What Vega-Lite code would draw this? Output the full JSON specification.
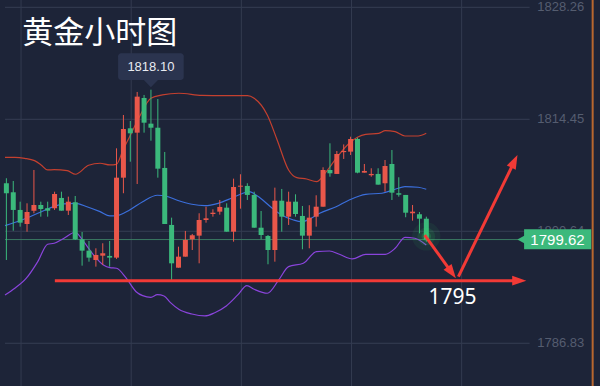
{
  "$schema": "https://vega.github.io/schema/vega-lite/v6.json",
  "width": 600,
  "height": 386,
  "autosize": "none",
  "padding": 0,
  "background": "#1d2438",
  "config": {"view": {"stroke": null}},
  "datasets": {
    "candles": [
      {"t":0,"o":1806.56,"h":1807.18,"l":1797.10,"c":1805.33},
      {"t":1,"o":1805.45,"h":1806.84,"l":1800.71,"c":1803.27},
      {"t":2,"o":1803.27,"h":1804.29,"l":1801.21,"c":1801.70},
      {"t":3,"o":1801.54,"h":1804.09,"l":1800.59,"c":1803.02},
      {"t":4,"o":1803.18,"h":1808.20,"l":1802.86,"c":1803.88},
      {"t":5,"o":1803.88,"h":1804.29,"l":1802.44,"c":1803.39},
      {"t":6,"o":1803.48,"h":1804.29,"l":1802.44,"c":1803.18},
      {"t":7,"o":1803.48,"h":1805.52,"l":1803.27,"c":1805.24},
      {"t":8,"o":1804.75,"h":1805.52,"l":1803.18,"c":1803.18},
      {"t":9,"o":1803.18,"h":1804.91,"l":1802.65,"c":1804.29},
      {"t":10,"o":1804.22,"h":1804.99,"l":1799.57,"c":1799.65},
      {"t":11,"o":1799.65,"h":1800.55,"l":1796.40,"c":1798.25},
      {"t":12,"o":1798.25,"h":1799.44,"l":1796.89,"c":1797.39},
      {"t":13,"o":1797.10,"h":1798.54,"l":1796.28,"c":1797.72},
      {"t":14,"o":1797.63,"h":1799.16,"l":1796.49,"c":1797.93},
      {"t":15,"o":1797.60,"h":1799.44,"l":1796.28,"c":1797.39},
      {"t":16,"o":1797.39,"h":1810.87,"l":1797.23,"c":1807.25},
      {"t":17,"o":1807.25,"h":1814.98,"l":1805.33,"c":1813.25},
      {"t":18,"o":1813.34,"h":1814.24,"l":1809.22,"c":1812.72},
      {"t":19,"o":1812.80,"h":1817.82,"l":1806.47,"c":1817.24},
      {"t":20,"o":1817.08,"h":1817.45,"l":1812.80,"c":1814.03},
      {"t":21,"o":1813.91,"h":1818.10,"l":1811.81,"c":1813.41},
      {"t":22,"o":1813.41,"h":1816.95,"l":1807.25,"c":1808.36},
      {"t":23,"o":1808.45,"h":1810.42,"l":1801.54,"c":1801.54},
      {"t":24,"o":1801.42,"h":1802.32,"l":1794.64,"c":1796.69},
      {"t":25,"o":1796.15,"h":1798.74,"l":1796.15,"c":1797.51},
      {"t":26,"o":1797.51,"h":1800.68,"l":1797.51,"c":1799.57},
      {"t":27,"o":1799.65,"h":1800.31,"l":1798.33,"c":1800.15},
      {"t":28,"o":1800.10,"h":1802.86,"l":1796.69,"c":1802.03},
      {"t":29,"o":1802.03,"h":1803.67,"l":1801.70,"c":1802.24},
      {"t":30,"o":1802.77,"h":1803.35,"l":1802.44,"c":1802.93},
      {"t":31,"o":1803.06,"h":1804.50,"l":1802.69,"c":1803.64},
      {"t":32,"o":1803.55,"h":1804.09,"l":1800.59,"c":1800.59},
      {"t":33,"o":1800.59,"h":1807.13,"l":1799.36,"c":1806.10},
      {"t":34,"o":1806.14,"h":1807.67,"l":1803.43,"c":1806.26},
      {"t":35,"o":1806.23,"h":1806.56,"l":1804.50,"c":1805.12},
      {"t":36,"o":1805.12,"h":1805.52,"l":1801.08,"c":1801.08},
      {"t":37,"o":1801.08,"h":1803.14,"l":1799.65,"c":1800.18},
      {"t":38,"o":1800.06,"h":1800.18,"l":1796.57,"c":1798.33},
      {"t":39,"o":1798.33,"h":1806.02,"l":1796.89,"c":1804.41},
      {"t":40,"o":1804.41,"h":1805.86,"l":1800.59,"c":1802.44},
      {"t":41,"o":1802.44,"h":1805.52,"l":1801.42,"c":1804.29},
      {"t":42,"o":1804.29,"h":1805.20,"l":1802.44,"c":1802.77},
      {"t":43,"o":1802.53,"h":1803.76,"l":1798.42,"c":1800.10},
      {"t":44,"o":1800.10,"h":1803.85,"l":1798.54,"c":1802.32},
      {"t":45,"o":1802.44,"h":1805.08,"l":1801.21,"c":1803.67},
      {"t":46,"o":1803.67,"h":1808.53,"l":1803.67,"c":1808.20},
      {"t":47,"o":1808.20,"h":1811.49,"l":1807.37,"c":1807.79},
      {"t":48,"o":1807.71,"h":1810.54,"l":1807.71,"c":1810.17},
      {"t":49,"o":1810.40,"h":1811.35,"l":1809.56,"c":1810.54},
      {"t":50,"o":1810.46,"h":1812.30,"l":1810.05,"c":1812.02},
      {"t":51,"o":1812.02,"h":1812.18,"l":1807.79,"c":1807.87},
      {"t":52,"o":1807.87,"h":1808.94,"l":1807.87,"c":1808.08},
      {"t":53,"o":1807.55,"h":1808.41,"l":1807.37,"c":1807.71},
      {"t":54,"o":1807.71,"h":1808.41,"l":1806.39,"c":1806.39},
      {"t":55,"o":1806.56,"h":1809.43,"l":1805.52,"c":1808.69},
      {"t":56,"o":1808.94,"h":1810.66,"l":1804.50,"c":1805.40},
      {"t":57,"o":1805.33,"h":1807.30,"l":1804.91,"c":1805.15},
      {"t":58,"o":1805.12,"h":1805.12,"l":1802.37,"c":1802.93},
      {"t":59,"o":1802.86,"h":1803.88,"l":1801.95,"c":1803.06},
      {"t":60,"o":1802.74,"h":1803.02,"l":1800.39,"c":1802.19},
      {"t":61,"o":1802.19,"h":1802.44,"l":1799.36,"c":1799.62}
    ],
    "bands": [
      {"b":"upper","t":-0.2,"v":1809.76},{"b":"upper","t":1.23,"v":1809.76},{"b":"upper","t":2.66,"v":1809.64},
      {"b":"upper","t":4.09,"v":1809.35},{"b":"upper","t":5.04,"v":1808.82},{"b":"upper","t":5.99,"v":1808.20},
      {"b":"upper","t":6.94,"v":1808.24},{"b":"upper","t":8.84,"v":1808.11},{"b":"upper","t":10.04,"v":1807.67},
      {"b":"upper","t":11.94,"v":1808.78},{"b":"upper","t":13.61,"v":1809.03},{"b":"upper","t":15.04,"v":1808.82},
      {"b":"upper","t":15.99,"v":1808.90},{"b":"upper","t":16.94,"v":1810.66},{"b":"upper","t":17.9,"v":1812.30},
      {"b":"upper","t":19.33,"v":1814.77},{"b":"upper","t":20.99,"v":1817.04},{"b":"upper","t":22.66,"v":1817.45},
      {"b":"upper","t":25.04,"v":1817.66},{"b":"upper","t":28.37,"v":1817.41},{"b":"upper","t":31.66,"v":1817.36},
      {"b":"upper","t":35.04,"v":1817.36},{"b":"upper","t":35.99,"v":1817.04},{"b":"upper","t":37.9,"v":1814.98},
      {"b":"upper","t":39.33,"v":1811.90},{"b":"upper","t":40.99,"v":1808.20},{"b":"upper","t":42.19,"v":1807.25},
      {"b":"upper","t":43.61,"v":1807.09},{"b":"upper","t":45.04,"v":1806.76},{"b":"upper","t":46.47,"v":1807.99},
      {"b":"upper","t":47.9,"v":1809.64},{"b":"upper","t":49.8,"v":1811.49},{"b":"upper","t":50.99,"v":1812.23},
      {"b":"upper","t":52.19,"v":1812.60},{"b":"upper","t":54.09,"v":1812.72},{"b":"upper","t":55.04,"v":1813.04},
      {"b":"upper","t":56.47,"v":1812.92},{"b":"upper","t":57.9,"v":1812.39},{"b":"upper","t":59.8,"v":1812.39},
      {"b":"upper","t":60.99,"v":1812.72},
      {"b":"mid","t":-0.2,"v":1801.33},{"b":"mid","t":2.19,"v":1802.03},{"b":"mid","t":4.56,"v":1802.86},
      {"b":"mid","t":6.47,"v":1803.55},{"b":"mid","t":8.37,"v":1804.01},{"b":"mid","t":10.04,"v":1804.09},
      {"b":"mid","t":11.7,"v":1803.67},{"b":"mid","t":13.61,"v":1803.06},{"b":"mid","t":15.04,"v":1802.53},
      {"b":"mid","t":15.99,"v":1802.56},{"b":"mid","t":17.9,"v":1803.27},{"b":"mid","t":19.8,"v":1804.29},
      {"b":"mid","t":21.94,"v":1805.08},{"b":"mid","t":23.13,"v":1804.99},{"b":"mid","t":25.04,"v":1804.41},
      {"b":"mid","t":26.94,"v":1803.97},{"b":"mid","t":28.84,"v":1803.80},{"b":"mid","t":30.76,"v":1804.09},
      {"b":"mid","t":32.66,"v":1804.71},{"b":"mid","t":34.09,"v":1805.24},{"b":"mid","t":35.27,"v":1805.52},
      {"b":"mid","t":36.47,"v":1804.99},{"b":"mid","t":38.37,"v":1803.67},{"b":"mid","t":39.8,"v":1802.74},
      {"b":"mid","t":41.7,"v":1802.03},{"b":"mid","t":42.9,"v":1801.82},{"b":"mid","t":44.09,"v":1802.16},
      {"b":"mid","t":45.51,"v":1802.86},{"b":"mid","t":47.9,"v":1803.67},{"b":"mid","t":49.8,"v":1804.50},
      {"b":"mid","t":52.19,"v":1805.20},{"b":"mid","t":54.56,"v":1805.33},{"b":"mid","t":56.47,"v":1805.82},
      {"b":"mid","t":57.9,"v":1806.14},{"b":"mid","t":59.8,"v":1806.07},{"b":"mid","t":60.99,"v":1805.82},
      {"b":"lower","t":-0.2,"v":1792.79},{"b":"lower","t":1.23,"v":1793.61},{"b":"lower","t":2.9,"v":1794.85},
      {"b":"lower","t":4.56,"v":1796.89},{"b":"lower","t":5.99,"v":1799.04},{"b":"lower","t":6.94,"v":1799.16},
      {"b":"lower","t":8.37,"v":1799.78},{"b":"lower","t":9.99,"v":1800.52},{"b":"lower","t":11.23,"v":1799.36},
      {"b":"lower","t":12.66,"v":1797.72},{"b":"lower","t":14.09,"v":1796.49},{"b":"lower","t":15.04,"v":1796.15},
      {"b":"lower","t":15.99,"v":1796.08},{"b":"lower","t":17.41,"v":1794.85},{"b":"lower","t":18.84,"v":1793.19},
      {"b":"lower","t":19.8,"v":1792.70},{"b":"lower","t":20.99,"v":1792.50},{"b":"lower","t":21.94,"v":1792.82},
      {"b":"lower","t":22.9,"v":1792.66},{"b":"lower","t":23.84,"v":1791.84},{"b":"lower","t":25.04,"v":1791.02},
      {"b":"lower","t":26.94,"v":1790.44},{"b":"lower","t":28.84,"v":1790.20},{"b":"lower","t":30.27,"v":1790.60},
      {"b":"lower","t":31.94,"v":1791.43},{"b":"lower","t":33.61,"v":1792.79},{"b":"lower","t":34.94,"v":1793.93},
      {"b":"lower","t":35.99,"v":1793.49},{"b":"lower","t":37.9,"v":1793.00},{"b":"lower","t":39.56,"v":1794.64},
      {"b":"lower","t":40.99,"v":1796.28},{"b":"lower","t":43.13,"v":1796.69},{"b":"lower","t":45.04,"v":1798.13},
      {"b":"lower","t":46.94,"v":1798.21},{"b":"lower","t":48.37,"v":1797.80},{"b":"lower","t":50.27,"v":1797.23},
      {"b":"lower","t":52.19,"v":1797.80},{"b":"lower","t":55.04,"v":1797.80},{"b":"lower","t":56.47,"v":1798.54},
      {"b":"lower","t":57.9,"v":1799.90},{"b":"lower","t":59.33,"v":1799.78},{"b":"lower","t":60.99,"v":1798.95}
    ],
    "arrows": [
      {"a":"base","t":7.04,"v":1794.55},{"a":"base","t":74.4,"v":1794.55},
      {"a":"down","t":60.76,"v":1800.18},{"a":"down","t":64.69,"v":1795.55},
      {"a":"up","t":65.66,"v":1795.04},{"a":"up","t":73.79,"v":1809.27}
    ],
    "ticks": [
      {"v":1786.83,"label":"1786.83"},{"v":1800.64,"label":"1800.64"},{"v":1814.45,"label":"1814.45"},{"v":1828.26,"label":"1828.26"}
    ]
  },
  "layer": [
    {
      "data": {"name": "ticks"},
      "mark": {"type": "rule", "color": "#363e53", "strokeWidth": 1},
      "encoding": {
        "x": {"datum": -0.2, "type": "quantitative", "scale": {"domain": [-0.2, 85.5], "nice": false, "zero": false}, "axis": null},
        "x2": {"datum": 76},
        "y": {"field": "v", "type": "quantitative", "scale": {"domain": [1781.56, 1829.16], "nice": false, "zero": false}, "axis": null}
      }
    },
    {
      "data": {"name": "ticks"},
      "mark": {"type": "text", "color": "#555d70", "fontSize": 13, "font": "Liberation Sans", "align": "right", "baseline": "middle"},
      "encoding": {
        "x": {"datum": 83.95, "type": "quantitative", "scale": {"domain": [-0.2, 85.5], "nice": false, "zero": false}, "axis": null},
        "y": {"field": "v", "type": "quantitative", "scale": {"domain": [1781.56, 1829.16], "nice": false, "zero": false}, "axis": null},
        "text": {"field": "label"}
      }
    },
    {
      "data": {"values": [{"t":2.13},{"t":18.13},{"t":34.13},{"t":50.13},{"t":66.13}]},
      "mark": {"type": "rule", "color": "#333b50", "strokeWidth": 1},
      "encoding": {
        "x": {"field": "t", "type": "quantitative", "scale": {"domain": [-0.2, 85.5], "nice": false, "zero": false}, "axis": null}
      }
    },
    {
      "data": {"values": [{"v":1799.62}]},
      "mark": {"type": "rule", "color": "#3a7862", "strokeWidth": 1},
      "encoding": {
        "x": {"datum": -0.2, "type": "quantitative", "scale": {"domain": [-0.2, 85.5], "nice": false, "zero": false}, "axis": null},
        "x2": {"datum": 74.6},
        "y": {"field": "v", "type": "quantitative", "scale": {"domain": [1781.56, 1829.16], "nice": false, "zero": false}, "axis": null}
      }
    },
    {
      "data": {"name": "bands"},
      "mark": {"type": "line", "strokeWidth": 1.2, "interpolate": "monotone"},
      "encoding": {
        "x": {"field": "t", "type": "quantitative", "scale": {"domain": [-0.2, 85.5], "nice": false, "zero": false}, "axis": null},
        "y": {"field": "v", "type": "quantitative", "scale": {"domain": [1781.56, 1829.16], "nice": false, "zero": false}, "axis": null},
        "color": {"field": "b", "type": "nominal", "legend": null,
                  "scale": {"domain": ["upper", "mid", "lower"], "range": ["#c4402f", "#3b6fdc", "#8a44dc"]}}
      }
    },
    {
      "data": {"name": "candles"},
      "mark": {"type": "rule", "strokeWidth": 1},
      "encoding": {
        "x": {"field": "t", "type": "quantitative", "scale": {"domain": [-0.2, 85.5], "nice": false, "zero": false}, "axis": null},
        "y": {"field": "l", "type": "quantitative", "scale": {"domain": [1781.56, 1829.16], "nice": false, "zero": false}, "axis": null},
        "y2": {"field": "h"},
        "color": {"condition": {"test": "datum.c >= datum.o", "value": "#e9574a"}, "value": "#3bb97c"}
      }
    },
    {
      "data": {"name": "candles"},
      "mark": {"type": "bar", "width": 5},
      "encoding": {
        "x": {"field": "t", "type": "quantitative", "scale": {"domain": [-0.2, 85.5], "nice": false, "zero": false}, "axis": null},
        "y": {"field": "o", "type": "quantitative", "scale": {"domain": [1781.56, 1829.16], "nice": false, "zero": false}, "axis": null},
        "y2": {"field": "c"},
        "color": {"condition": {"test": "datum.c >= datum.o", "value": "#e9574a"}, "value": "#3bb97c"}
      }
    },
    {
      "data": {"values": [{"t":60.99,"v":1800.0}]},
      "layer": [
        {"mark": {"type": "point", "shape": "circle", "filled": true, "color": "#33e066", "opacity": 0.07, "size": 800}},
        {"mark": {"type": "point", "shape": "circle", "filled": true, "color": "#33e066", "opacity": 0.12, "size": 320}},
        {"mark": {"type": "point", "shape": "circle", "filled": true, "color": "#33e066", "opacity": 0.2, "size": 90}}
      ],
      "encoding": {
        "x": {"field": "t", "type": "quantitative", "scale": {"domain": [-0.2, 85.5], "nice": false, "zero": false}, "axis": null},
        "y": {"field": "v", "type": "quantitative", "scale": {"domain": [1781.56, 1829.16], "nice": false, "zero": false}, "axis": null}
      }
    },
    {
      "data": {"name": "arrows"},
      "mark": {"type": "line", "strokeWidth": 3, "color": "#f23a36", "strokeCap": "butt"},
      "encoding": {
        "x": {"field": "t", "type": "quantitative", "scale": {"domain": [-0.2, 85.5], "nice": false, "zero": false}, "axis": null},
        "y": {"field": "v", "type": "quantitative", "scale": {"domain": [1781.56, 1829.16], "nice": false, "zero": false}, "axis": null},
        "detail": {"field": "a", "type": "nominal"}
      }
    },
    {
      "data": {"values": [{"t":74.5,"v":1794.55}]},
      "mark": {"type": "point", "shape": "M0,-1L0.7,1L-0.7,1Z", "filled": true, "color": "#f23a36", "opacity": 1, "size": 200, "angle": 90},
      "encoding": {
        "x": {"field": "t", "type": "quantitative", "scale": {"domain": [-0.2, 85.5], "nice": false, "zero": false}, "axis": null},
        "y": {"field": "v", "type": "quantitative", "scale": {"domain": [1781.56, 1829.16], "nice": false, "zero": false}, "axis": null}
      }
    },
    {
      "data": {"values": [{"t":64.69,"v":1795.55}]},
      "mark": {"type": "point", "shape": "M0,-1L0.7,1L-0.7,1Z", "filled": true, "color": "#f23a36", "opacity": 1, "size": 200, "angle": 144},
      "encoding": {
        "x": {"field": "t", "type": "quantitative", "scale": {"domain": [-0.2, 85.5], "nice": false, "zero": false}, "axis": null},
        "y": {"field": "v", "type": "quantitative", "scale": {"domain": [1781.56, 1829.16], "nice": false, "zero": false}, "axis": null}
      }
    },
    {
      "data": {"values": [{"t":73.79,"v":1809.27}]},
      "mark": {"type": "point", "shape": "M0,-1L0.7,1L-0.7,1Z", "filled": true, "color": "#f23a36", "opacity": 1, "size": 200, "angle": 26},
      "encoding": {
        "x": {"field": "t", "type": "quantitative", "scale": {"domain": [-0.2, 85.5], "nice": false, "zero": false}, "axis": null},
        "y": {"field": "v", "type": "quantitative", "scale": {"domain": [1781.56, 1829.16], "nice": false, "zero": false}, "axis": null}
      }
    },
    {
      "data": {"values": [{"x":85.16}]},
      "mark": {"type": "rule", "color": "#b8672f", "strokeWidth": 2},
      "encoding": {
        "x": {"field": "x", "type": "quantitative", "scale": {"domain": [-0.2, 85.5], "nice": false, "zero": false}, "axis": null}
      }
    },
    {
      "data": {"values": [{"label": "1799.62"}]},
      "mark": {"type": "rect", "color": "#3cb97c"},
      "encoding": {
        "x": {"datum": 75.2, "type": "quantitative", "scale": {"domain": [-0.2, 85.5], "nice": false, "zero": false}, "axis": null},
        "x2": {"datum": 84.95},
        "y": {"datum": 1798.42, "type": "quantitative", "scale": {"domain": [1781.56, 1829.16], "nice": false, "zero": false}, "axis": null},
        "y2": {"datum": 1800.89}
      }
    },
    {
      "data": {"values": [{"t":74.95,"v":1799.62}]},
      "mark": {"type": "point", "shape": "M-1,0L1,-1.1L1,1.1Z", "filled": true, "color": "#3cb97c", "opacity": 1, "size": 100},
      "encoding": {
        "x": {"field": "t", "type": "quantitative", "scale": {"domain": [-0.2, 85.5], "nice": false, "zero": false}, "axis": null},
        "y": {"field": "v", "type": "quantitative", "scale": {"domain": [1781.56, 1829.16], "nice": false, "zero": false}, "axis": null}
      }
    },
    {
      "data": {"values": [{"t":80.05,"v":1799.62,"label":"1799.62"}]},
      "mark": {"type": "text", "color": "#ffffff", "fontSize": 15, "font": "Liberation Sans", "align": "center", "baseline": "middle"},
      "encoding": {
        "x": {"field": "t", "type": "quantitative", "scale": {"domain": [-0.2, 85.5], "nice": false, "zero": false}, "axis": null},
        "y": {"field": "v", "type": "quantitative", "scale": {"domain": [1781.56, 1829.16], "nice": false, "zero": false}, "axis": null},
        "text": {"field": "label"}
      }
    },
    {
      "data": {"values": [{"label": "1818.10"}]},
      "mark": {"type": "rect", "color": "#2b344f", "cornerRadius": 3},
      "encoding": {
        "x": {"datum": 16.23, "type": "quantitative", "scale": {"domain": [-0.2, 85.5], "nice": false, "zero": false}, "axis": null},
        "x2": {"datum": 25.76},
        "y": {"datum": 1819.30, "type": "quantitative", "scale": {"domain": [1781.56, 1829.16], "nice": false, "zero": false}, "axis": null},
        "y2": {"datum": 1822.59}
      }
    },
    {
      "data": {"values": [{"t":20.99,"v":1818.85}]},
      "mark": {"type": "point", "shape": "M-1,-0.5L1,-0.5L0,0.5Z", "filled": true, "color": "#2b344f", "opacity": 1, "size": 200},
      "encoding": {
        "x": {"field": "t", "type": "quantitative", "scale": {"domain": [-0.2, 85.5], "nice": false, "zero": false}, "axis": null},
        "y": {"field": "v", "type": "quantitative", "scale": {"domain": [1781.56, 1829.16], "nice": false, "zero": false}, "axis": null}
      }
    },
    {
      "data": {"values": [{"t":20.99,"v":1820.94,"label":"1818.10"}]},
      "mark": {"type": "text", "color": "#e8ebf2", "fontSize": 13, "font": "Liberation Sans", "align": "center", "baseline": "middle"},
      "encoding": {
        "x": {"field": "t", "type": "quantitative", "scale": {"domain": [-0.2, 85.5], "nice": false, "zero": false}, "axis": null},
        "y": {"field": "v", "type": "quantitative", "scale": {"domain": [1781.56, 1829.16], "nice": false, "zero": false}, "axis": null},
        "text": {"field": "label"}
      }
    },
    {
      "data": {"values": [{"t":2.3,"v":1824.97,"label":"黄金小时图"}]},
      "mark": {"type": "text", "color": "#ffffff", "fontSize": 31, "font": "Noto Sans CJK SC", "align": "left", "baseline": "middle"},
      "encoding": {
        "x": {"field": "t", "type": "quantitative", "scale": {"domain": [-0.2, 85.5], "nice": false, "zero": false}, "axis": null},
        "y": {"field": "v", "type": "quantitative", "scale": {"domain": [1781.56, 1829.16], "nice": false, "zero": false}, "axis": null},
        "text": {"field": "label"}
      }
    },
    {
      "data": {"values": [{"t":64.8,"v":1792.42,"label":"1795"}]},
      "mark": {"type": "text", "color": "#ffffff", "fontSize": 21, "font": "Noto Sans", "align": "center", "baseline": "middle"},
      "encoding": {
        "x": {"field": "t", "type": "quantitative", "scale": {"domain": [-0.2, 85.5], "nice": false, "zero": false}, "axis": null},
        "y": {"field": "v", "type": "quantitative", "scale": {"domain": [1781.56, 1829.16], "nice": false, "zero": false}, "axis": null},
        "text": {"field": "label"}
      }
    }
  ]
}
